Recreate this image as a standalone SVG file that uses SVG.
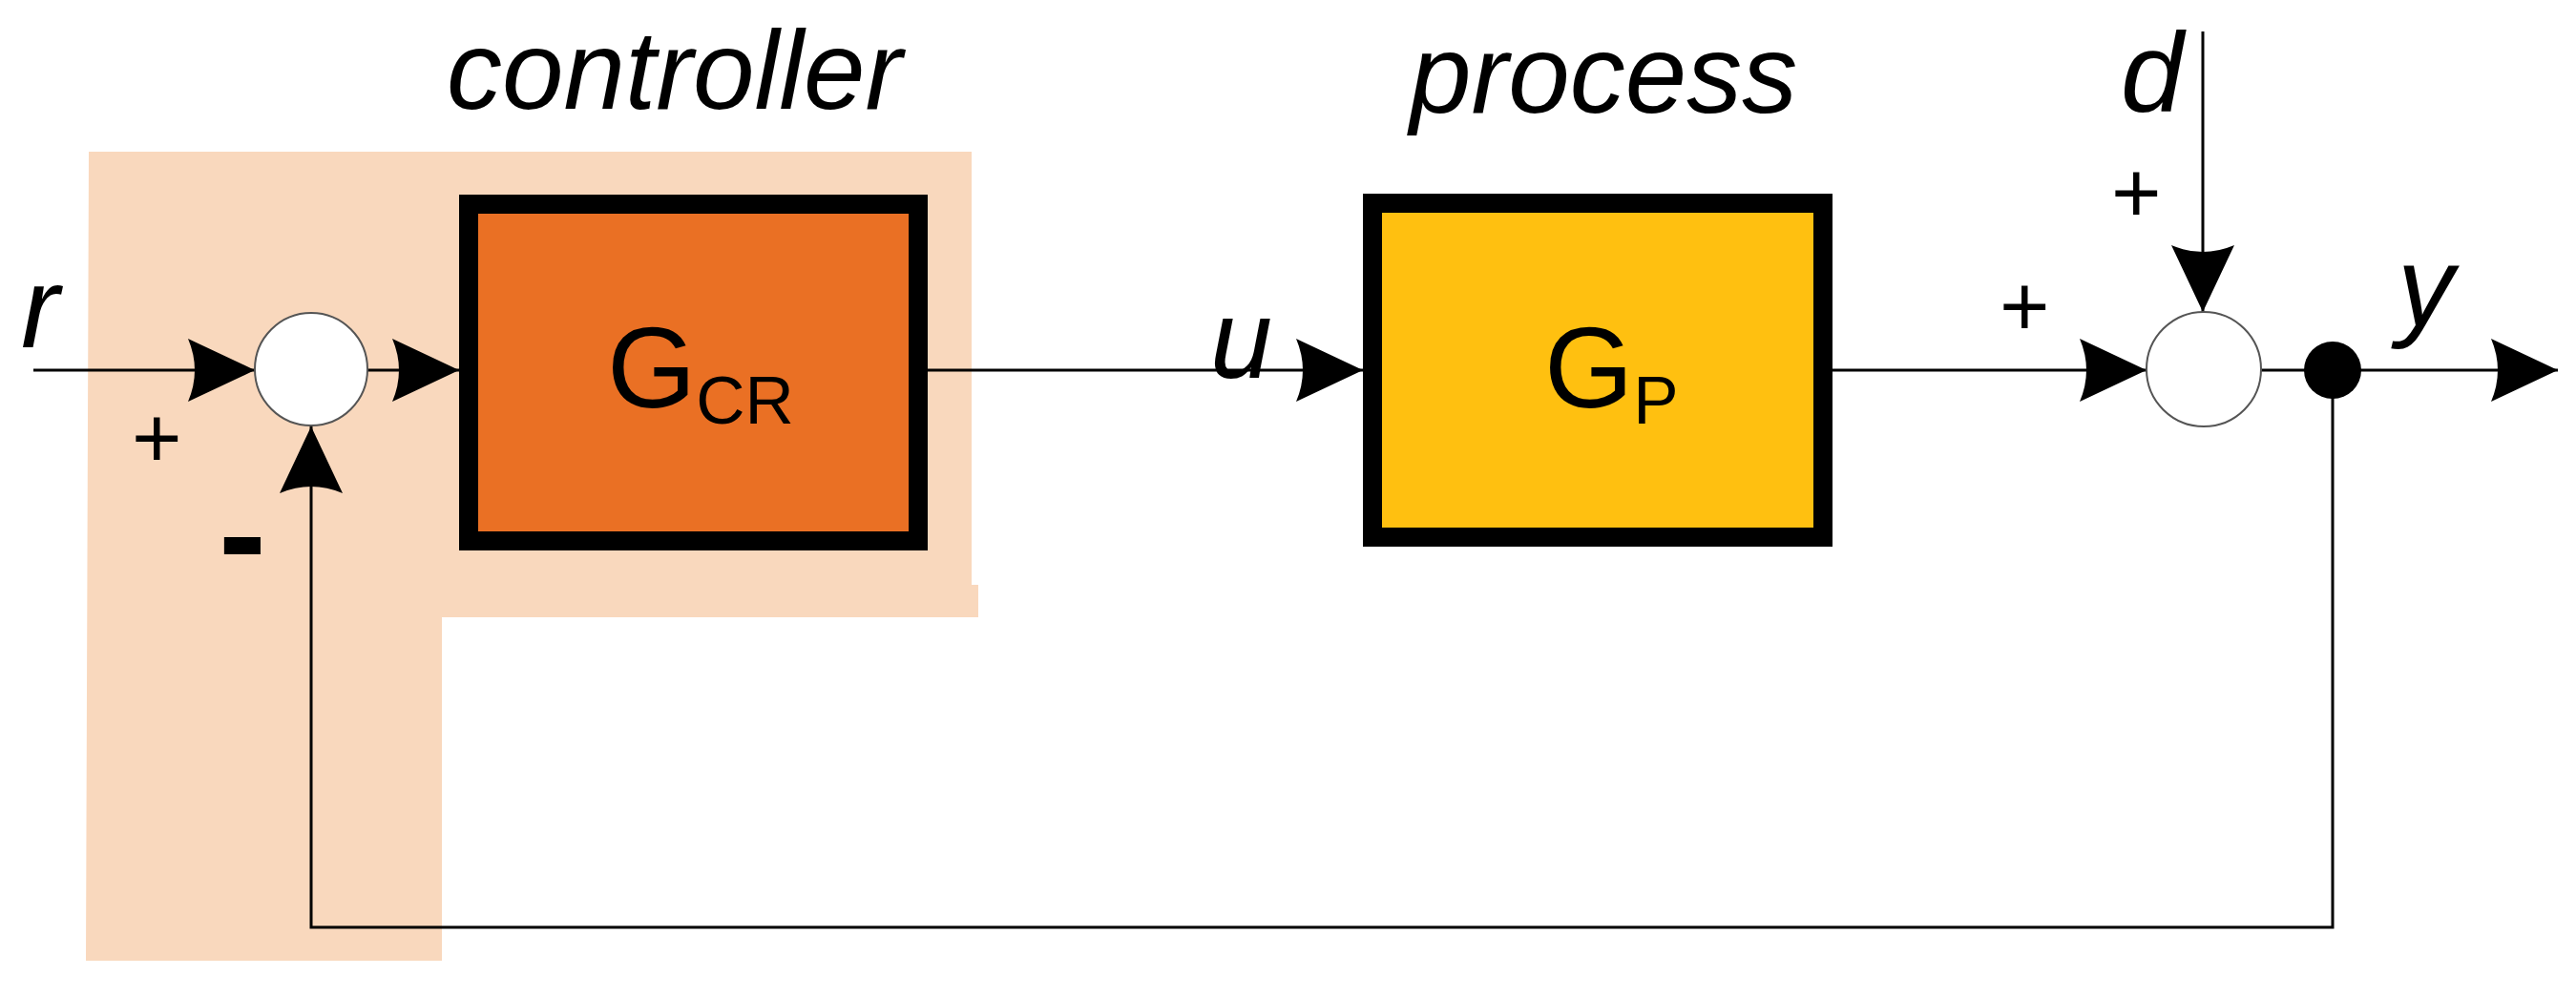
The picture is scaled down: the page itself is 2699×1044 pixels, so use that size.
<svg xmlns="http://www.w3.org/2000/svg" width="2699" height="1044" viewBox="0 0 2699 1044">
<style>
.ln{stroke:#000;stroke-width:3;fill:none}
.it{font-family:"Liberation Sans",Arial,sans-serif;font-style:italic;fill:#000}
.tx{font-family:"Liberation Sans",Arial,sans-serif;fill:#000}
.sum{fill:#fff;stroke:#555;stroke-width:2}
</style>
<defs>
<marker id="ah" viewBox="0 0 70 66" refX="70" refY="33" markerWidth="70" markerHeight="66" markerUnits="userSpaceOnUse" orient="auto">
<path d="M0,0 Q14,33 0,66 L70,33 Z" fill="#000"/>
</marker>
</defs>
<g id="controller-region">
<path d="M93,159 L1018,159 L1018,613 L1025,613 L1025,647 L463,647 L463,1007 L90,1007 Z" fill="#F9D8BD"/>
</g>
<g id="connectors">
<line class="ln" x1="35" y1="388" x2="267" y2="388" marker-end="url(#ah)"/>
<line class="ln" x1="385" y1="388" x2="481" y2="388" marker-end="url(#ah)"/>
<line class="ln" x1="972" y1="388" x2="1428" y2="388" marker-end="url(#ah)"/>
<line class="ln" x1="1920" y1="388" x2="2249" y2="388" marker-end="url(#ah)"/>
<line class="ln" x1="2308" y1="33" x2="2308" y2="327" marker-end="url(#ah)"/>
<line class="ln" x1="2369" y1="388" x2="2680" y2="388" marker-end="url(#ah)"/>
<polyline class="ln" points="2444,388 2444,972 326,972 326,447" marker-end="url(#ah)"/>
</g>
<g id="sum1"><ellipse class="sum" cx="326" cy="387" rx="59" ry="59"/></g>
<g id="sum2"><ellipse class="sum" cx="2309" cy="387" rx="60" ry="60"/></g>
<g id="branch"><circle cx="2444" cy="388" r="30" fill="#000"/></g>
<g id="controller">
<rect x="491" y="214" width="471" height="353" fill="#EA7024" stroke="#000" stroke-width="20"/>
<text class="tx" x="636" y="427" font-size="120">G<tspan font-size="71" dy="17">CR</tspan></text>
<text class="it" x="468" y="114" font-size="116">controller</text>
</g>
<g id="process">
<rect x="1438" y="213" width="472" height="350" fill="#FFC010" stroke="#000" stroke-width="20"/>
<text class="tx" x="1618" y="427" font-size="120">G<tspan font-size="71" dy="17">P</tspan></text>
<text class="it" x="1477" y="118" font-size="116">process</text>
</g>
<g id="labels">
<text class="it" x="22" y="364" font-size="120">r</text>
<text class="tx" x="138" y="490" font-size="90">+</text>
<text class="tx" x="229" y="611" font-size="150" font-weight="bold">-</text>
<text class="it" x="1268" y="396" font-size="117">u</text>
<text class="it" x="2222" y="117" font-size="118">d</text>
<text class="tx" x="2212" y="233" font-size="90">+</text>
<text class="tx" x="2095" y="352" font-size="90">+</text>
<text class="it" x="2512" y="341" font-size="118">y</text>
</g>
</svg>
